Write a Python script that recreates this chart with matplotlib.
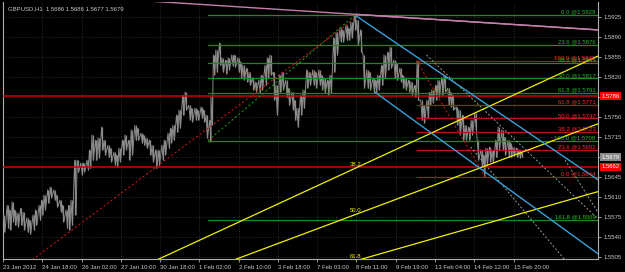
import matplotlib
matplotlib.use("Agg")
import matplotlib.pyplot as plt
from matplotlib import font_manager

# ── Price trace, sampled (bar index, high, low) ──────────────────────────────
bars = [1, 4, 6, 8, 10, 12, 15, 17, 20, 22, 25, 27, 30, 32, 34, 37, 39, 42, 44, 47,
        49, 52, 54, 56, 59, 61, 64, 66, 69, 71, 73, 76, 78, 81, 83, 86, 88, 91, 93, 95,
        98, 100, 103, 105, 108, 110, 113, 115, 117, 120, 122, 125, 127, 130, 132, 135,
        137, 139, 142, 144, 147, 149, 152, 154, 157, 159, 162, 164, 166, 169, 170, 172,
        174, 177, 179, 182, 184, 187, 189, 192, 194, 196, 199, 201, 204, 206, 209, 211,
        214, 216, 218, 221, 223, 226, 228, 231, 233, 236, 238, 240, 243, 245, 248, 250,
        253, 255, 258, 260, 262, 265, 267, 270, 272, 275, 277, 280, 282, 284, 287, 289,
        292, 294, 297, 299, 302, 304, 306, 309, 311, 314, 316, 319, 321, 324, 326, 328,
        331, 333, 336, 338, 341, 343, 346, 348, 350, 353, 355, 358, 360, 363, 365, 367,
        370, 372, 375, 377, 380, 382, 385, 387, 390, 392, 394, 397, 399, 402, 404, 407,
        409, 412, 414, 416, 419, 421, 423]
highs = [1.5578, 1.5595, 1.5587, 1.5601, 1.5587, 1.5582, 1.5590, 1.5583, 1.5573, 1.5569,
         1.5578, 1.5587, 1.5595, 1.5604, 1.5613, 1.5622, 1.5627, 1.5622, 1.5613, 1.5604,
         1.5595, 1.5587, 1.5595, 1.5604, 1.5674, 1.5674, 1.5669, 1.5669, 1.5674, 1.5692,
         1.5718, 1.5709, 1.5713, 1.5732, 1.5709, 1.5700, 1.5695, 1.5688, 1.5683, 1.5695,
         1.5709, 1.5718, 1.5709, 1.5727, 1.5735, 1.5730, 1.5721, 1.5718, 1.5713, 1.5709,
         1.5700, 1.5692, 1.5692, 1.5700, 1.5709, 1.5721, 1.5730, 1.5735, 1.5753, 1.5762,
         1.5788, 1.5793, 1.5770, 1.5765, 1.5765, 1.5762, 1.5767, 1.5762, 1.5753, 1.5744,
         1.5784, 1.5858, 1.5867, 1.5879, 1.5853, 1.5849, 1.5853, 1.5858, 1.5858, 1.5853,
         1.5846, 1.5840, 1.5835, 1.5828, 1.5818, 1.5811, 1.5814, 1.5823, 1.5840, 1.5853,
         1.5858, 1.5828, 1.5805, 1.5823, 1.5828, 1.5814, 1.5800, 1.5793, 1.5779, 1.5765,
         1.5788, 1.5797, 1.5832, 1.5828, 1.5832, 1.5828, 1.5832, 1.5823, 1.5818, 1.5814,
         1.5823, 1.5888, 1.5898, 1.5905, 1.5902, 1.5910, 1.5905, 1.5916, 1.5928, 1.5919,
         1.5902, 1.5858, 1.5832, 1.5828, 1.5818, 1.5814, 1.5823, 1.5840, 1.5858, 1.5863,
         1.5872, 1.5849, 1.5844, 1.5835, 1.5823, 1.5818, 1.5814, 1.5811, 1.5805, 1.5848,
         1.5779, 1.5770, 1.5779, 1.5793, 1.5797, 1.5805, 1.5814, 1.5818, 1.5823, 1.5800,
         1.5793, 1.5788, 1.5767, 1.5762, 1.5753, 1.5735, 1.5732, 1.5744, 1.5756, 1.5709,
         1.5692, 1.5683, 1.5695, 1.5697, 1.5692, 1.5709, 1.5732, 1.5727, 1.5714, 1.5709,
         1.5704, 1.5697, 1.5695, 1.5692, 1.5688]
lows = [1.5548, 1.5555, 1.5552, 1.5566, 1.5560, 1.5557, 1.5560, 1.5552, 1.5548, 1.5545,
        1.5552, 1.5560, 1.5569, 1.5578, 1.5587, 1.5599, 1.5608, 1.5604, 1.5592, 1.5583,
        1.5566, 1.5555, 1.5552, 1.5560, 1.5578, 1.5653, 1.5648, 1.5653, 1.5657, 1.5660,
        1.5674, 1.5674, 1.5678, 1.5692, 1.5683, 1.5679, 1.5671, 1.5665, 1.5662, 1.5671,
        1.5683, 1.5692, 1.5674, 1.5683, 1.5709, 1.5709, 1.5704, 1.5700, 1.5695, 1.5683,
        1.5671, 1.5660, 1.5665, 1.5674, 1.5683, 1.5695, 1.5704, 1.5709, 1.5723, 1.5730,
        1.5753, 1.5762, 1.5744, 1.5741, 1.5744, 1.5744, 1.5747, 1.5741, 1.5713, 1.5706,
        1.5735, 1.5823, 1.5828, 1.5840, 1.5828, 1.5825, 1.5832, 1.5839, 1.5837, 1.5828,
        1.5818, 1.5814, 1.5811, 1.5805, 1.5797, 1.5793, 1.5792, 1.5797, 1.5805, 1.5818,
        1.5823, 1.5779, 1.5753, 1.5793, 1.5797, 1.5784, 1.5770, 1.5762, 1.5744, 1.5732,
        1.5753, 1.5765, 1.5800, 1.5805, 1.5805, 1.5800, 1.5805, 1.5797, 1.5792, 1.5788,
        1.5792, 1.5828, 1.5858, 1.5881, 1.5881, 1.5884, 1.5884, 1.5888, 1.5902, 1.5875,
        1.5863, 1.5800, 1.5800, 1.5797, 1.5793, 1.5792, 1.5797, 1.5805, 1.5818, 1.5832,
        1.5835, 1.5818, 1.5814, 1.5811, 1.5800, 1.5797, 1.5793, 1.5788, 1.5784, 1.5779,
        1.5744, 1.5739, 1.5747, 1.5770, 1.5774, 1.5779, 1.5784, 1.5788, 1.5793, 1.5770,
        1.5767, 1.5762, 1.5735, 1.5718, 1.5709, 1.5709, 1.5709, 1.5718, 1.5727, 1.5674,
        1.5662, 1.5645, 1.5665, 1.5671, 1.5669, 1.5679, 1.5692, 1.5692, 1.5683, 1.5679,
        1.5679, 1.5681, 1.5679, 1.5678, 1.5679]

time_labels = ["23 Jan 2012", "24 Jan 18:00", "26 Jan 02:00", "27 Jan 10:00",
               "30 Jan 18:00", "1 Feb 02:00", "2 Feb 10:00", "3 Feb 18:00",
               "7 Feb 03:00", "8 Feb 11:00", "9 Feb 19:00", "13 Feb 04:00",
               "14 Feb 12:00", "15 Feb 20:00"]
price_ticks = [1.5505, 1.5540, 1.5575, 1.5610, 1.5645, 1.5680, 1.5715,
               1.5750, 1.5785, 1.5820, 1.5855, 1.5890, 1.5925]
hidden_ticks = [1.5680, 1.5785]

# horizontal lines with price tags
hline_prices = [1.5786, 1.5662]
last_price = 1.5679

# fibo #1 (green)
fib1_levels = ["0.0", "23.6", "38.2", "50.0", "61.8", "100.0", "161.8"]
fib1_prices = [1.5928, 1.5876, 1.5844, 1.5817, 1.5791, 1.5708, 1.5569]
fib1_from = (167, 1.5708)
fib1_to = (287, 1.5928)

# fibo #2 (red)
fib2_levels = ["0.0", "23.6", "38.2", "50.0", "61.8", "100.0"]
fib2_prices = [1.5644, 1.5692, 1.5723, 1.5747, 1.5771, 1.5848]
fib2_from = (337, 1.5848)
fib2_to = (393, 1.5644)

# fibo fan (yellow)
fan_origin = (-141, 1.5235)
fan_anchor = (288, 1.5924)
fan_levels = [38.2, 50.0, 61.8]

# trend lines: two anchor points each, extended to the right edge
pink_line = [(288, 1.5929), (484, 1.5902)]
blue_upper = [(288, 1.5926), (389, 1.5779)]
blue_lower = [(303, 1.5793), (393, 1.5653)]
grey_lines = [[(345, 1.5858), (460, 1.5622)],
              [(381, 1.5697), (458, 1.5499)],
              [(458, 1.5674), (485, 1.5582)]]

# ── Style ────────────────────────────────────────────────────────────────────
BG = "black"
TXT = "#c8c8c8"
GRID = "#3a3a3a"
FIB1_COL = "#1e8a1e"
FIB1_TXT = "#2fb12f"
FIB2_COL = "#b81414"
FIB2_TXT = "#ff2a2a"
YEL = "#f0f000"
BLUE = "#3a9fd8"
PINK = "#c77fae"

installed = {f.name for f in font_manager.fontManager.ttflist}
if "Liberation Sans Narrow" in installed:
    plt.rcParams["font.family"] = ["Liberation Sans Narrow", "DejaVu Sans"]
    FS = 4.9
else:
    plt.rcParams["font.family"] = ["Liberation Sans", "DejaVu Sans"]
    FS = 4.3

XMIN, XMAX = 0.2, 484.8
YMIN, YMAX = 1.5501, 1.59507

fig = plt.figure(figsize=(6.25, 2.72), dpi=100, facecolor=BG)
ax = fig.add_axes([3 / 625, 13 / 272, 595 / 625, 257 / 272], facecolor=BG)
ax.set_xlim(XMIN, XMAX)
ax.set_ylim(YMIN, YMAX)


def ray(p1, p2, x_end=XMAX):
    slope = (p2[1] - p1[1]) / (p2[0] - p1[0])
    return [p1[0], x_end], [p1[1], p1[1] + slope * (x_end - p1[0])]


# grid
for t in range(len(time_labels)):
    ax.axvline(t * 32, color=GRID, lw=0.6, ls=(0, (1, 2)), zorder=0)
for p in price_ticks:
    ax.axhline(p, color=GRID, lw=0.6, ls=(0, (1, 2)), zorder=0)

# price bars
zig_x, zig_y = [], []
for b, h, l in zip(bars, highs, lows):
    zig_x += [b - 0.6, b + 0.6]
    zig_y += [h, l]
ax.vlines(bars, lows, highs, color="#8a8a8a", lw=0.9, zorder=3)
ax.plot(zig_x, zig_y, color="#8a8a8a", lw=0.7, zorder=3)

# full width red lines
for p in hline_prices:
    ax.axhline(p, color="#d00000", lw=1.1, zorder=4)

# fibo 1
for lev, p in zip(fib1_levels, fib1_prices):
    ax.plot([fib1_from[0], XMAX], [p, p], color=FIB1_COL, lw=0.9, zorder=4)
    ax.text(XMAX - 2, p + 0.0001, "%s @%.4f" % (lev, p), color=FIB1_TXT,
            fontsize=FS, ha="right", va="bottom", zorder=6)
ax.plot([fib1_from[0], fib1_to[0]], [fib1_from[1], fib1_to[1]],
        color=FIB1_COL, lw=0.8, ls=(0, (2, 2)), zorder=4)

# fibo 2
for lev, p in zip(fib2_levels, fib2_prices):
    ax.plot([fib2_from[0], XMAX], [p, p], color=FIB2_COL, lw=0.9, zorder=4)
    ax.text(XMAX - 2, p + 0.0001, "%s @%.4f" % (lev, p), color=FIB2_TXT,
            fontsize=FS, ha="right", va="bottom", zorder=6)
ax.plot([fib2_from[0], fib2_to[0]], [fib2_from[1], fib2_to[1]],
        color=FIB2_COL, lw=0.8, ls=(0, (2, 2)), zorder=4)

# fibo fan
ax.plot([fan_origin[0], fan_anchor[0]], [fan_origin[1], fan_anchor[1]],
        color=FIB2_COL, lw=0.8, ls=(0, (2, 2)), zorder=4)
for lev in fan_levels:
    p_at = fan_anchor[1] - lev / 100 * (fan_anchor[1] - fan_origin[1])
    xs, ys = ray(fan_origin, (fan_anchor[0], p_at))
    ax.plot(xs, ys, color=YEL, lw=0.9, zorder=5)
    ax.text(fan_anchor[0] - 1, p_at + 0.0002, "%.1f" % lev, color=YEL,
            fontsize=FS, ha="center", va="bottom", zorder=6)

# trend lines
for pts, col in [(pink_line, PINK), (blue_upper, BLUE), (blue_lower, BLUE)]:
    xs, ys = ray(pts[0], pts[1])
    ax.plot(xs, ys, color=col, lw=1.0, zorder=5)
xs, ys = ray(pink_line[1], pink_line[0], x_end=0)
ax.plot(xs, ys, color=PINK, lw=1.0, zorder=5)
for pts in grey_lines:
    xs, ys = ray(pts[0], pts[1])
    ax.plot(xs, ys, color="#9a9a9a", lw=0.7, ls=(0, (2, 2)), zorder=4)

# axes
ax.spines["top"].set_visible(False)
for s in ["left", "right", "bottom"]:
    ax.spines[s].set_color("#b0b0b0")
    ax.spines[s].set_linewidth(0.8)
ax.yaxis.tick_right()
ax.set_yticks(price_ticks)
ax.set_yticklabels(["" if p in hidden_ticks else "%.4f" % p for p in price_ticks])
ax.set_xticks([t * 32 for t in range(len(time_labels))])
ax.set_xticklabels(time_labels, ha="left")
ax.tick_params(axis="both", colors="#b0b0b0", labelcolor=TXT, labelsize=FS,
               length=2.5, width=0.6, pad=1.5)

# price tags
for p in hline_prices:
    ax.annotate("%.4f" % p, xy=(1.0, p), xycoords=("axes fraction", "data"),
                xytext=(2.5, 0), textcoords="offset points", ha="left", va="center",
                color="white", fontsize=FS,
                bbox=dict(boxstyle="square,pad=0.25", fc="#ff0000", ec="none"))
ax.annotate("%.4f" % last_price, xy=(1.0, last_price), xycoords=("axes fraction", "data"),
            xytext=(2.5, 0), textcoords="offset points", ha="left", va="center",
            color="white", fontsize=FS,
            bbox=dict(boxstyle="square,pad=0.25", fc="#8a8a8a", ec="none"))

ax.text(0.008, 0.985, "GBPUSD,H1  1.5686 1.5686 1.5677 1.5679", transform=ax.transAxes,
        color=TXT, fontsize=FS, ha="left", va="top")

plt.savefig("out.png", dpi=100, facecolor=BG)
